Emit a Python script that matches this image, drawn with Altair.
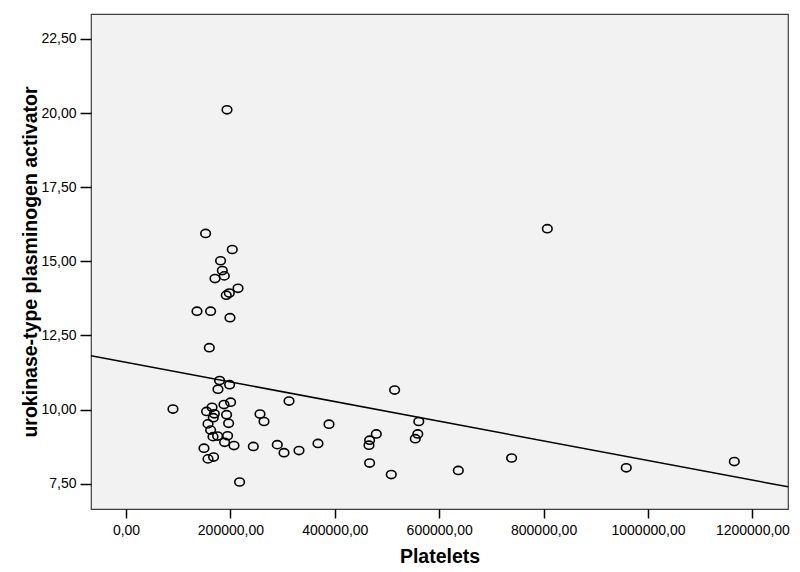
import altair as alt
import pandas as pd

# Platelets (x) and urokinase-type plasminogen activator (y)
platelets = [
    193500, 152500, 203600, 181200, 184500, 188300, 170500, 214600, 192100, 197900,
    136000, 162100, 199200, 159600, 179300, 198500, 176200, 90000, 200400, 187700,
    164800, 154400, 169200, 192700, 167200, 256700, 264400, 196600, 157100, 162100,
    166700, 175500, 194600, 188900, 206900, 243900, 149400, 167800, 157100, 217600,
    514600, 312300, 388900, 560900, 479500, 559000, 554200, 466700, 465500, 289800,
    302700, 331400, 367800, 466700, 508200, 636600, 738700, 958400, 1165300, 807100,
]
upa = [
    20.11, 15.94, 15.40, 15.02, 14.69, 14.51, 14.42, 14.09, 13.86, 13.93,
    13.32, 13.32, 13.10, 12.09, 10.98, 10.84, 10.69, 10.02, 10.25, 10.17,
    10.08, 9.94, 9.86, 9.83, 9.73, 9.85, 9.60, 9.54, 9.52, 9.31,
    9.09, 9.11, 9.12, 8.90, 8.79, 8.76, 8.70, 8.40, 8.34, 7.56,
    10.66, 10.29, 9.51, 9.60, 9.18, 9.18, 9.02, 8.97, 8.80, 8.82,
    8.55, 8.62, 8.86, 8.20, 7.81, 7.95, 8.37, 8.04, 8.25, 16.10,
]

x_domain = [-67050, 1268200]
y_domain = [6.65, 23.34]
x_ticks = [0, 200000, 400000, 600000, 800000, 1000000, 1200000]
y_ticks = [7.5, 10.0, 12.5, 15.0, 17.5, 20.0, 22.5]

df = pd.DataFrame({"platelets": platelets, "upa": upa})

FONT = "Liberation Sans"
label_expr = "replace(format(datum.value, '.2f'), '.', ',')"

x_enc = alt.X(
    "platelets:Q",
    scale=alt.Scale(domain=x_domain, nice=False, zero=False),
    axis=alt.Axis(
        title="Platelets", values=x_ticks, labelExpr=label_expr,
        tickSize=9, labelPadding=5, titleBaseline="middle", titleY=47,
    ),
)
y_enc = alt.Y(
    "upa:Q",
    scale=alt.Scale(domain=y_domain, nice=False, zero=False),
    axis=alt.Axis(
        title="urokinase-type plasminogen activator", values=y_ticks,
        labelExpr=label_expr, tickSize=11, labelPadding=4,
        titleBaseline="middle", titleX=-61,
    ),
)

ellipse = "M -1.18 0 A 1.18 1 0 1 1 1.18 0 A 1.18 1 0 1 1 -1.18 0 Z"

points = alt.Chart(df).mark_point(
    shape=ellipse, size=66, filled=False, color="black", strokeWidth=1.6, opacity=1
).encode(x=x_enc, y=y_enc)

line = alt.Chart(df).transform_regression(
    "platelets", "upa", extent=x_domain
).mark_line(color="black", strokeWidth=1.5, clip=True).encode(
    x=alt.X("platelets:Q"), y=alt.Y("upa:Q")
)

chart = alt.layer(points, line).properties(
    width=697, height=495,
    autosize=alt.AutoSizeParams(type="none"),
    padding={"left": 83, "top": 6, "right": 4, "bottom": 56},
    background="white",
).configure_view(
    fill="#F2F2F2", stroke="#404040", strokeWidth=1.2
).configure_axis(
    domain=False, grid=False, tickColor="black", tickWidth=1.5,
    labelFont=FONT, labelFontSize=14, labelColor="black",
    titleFont=FONT, titleFontSize=19.5, titleFontWeight="bold", titleColor="black",
)

chart.save("out.html", embed_options={"renderer": "svg", "actions": False})
